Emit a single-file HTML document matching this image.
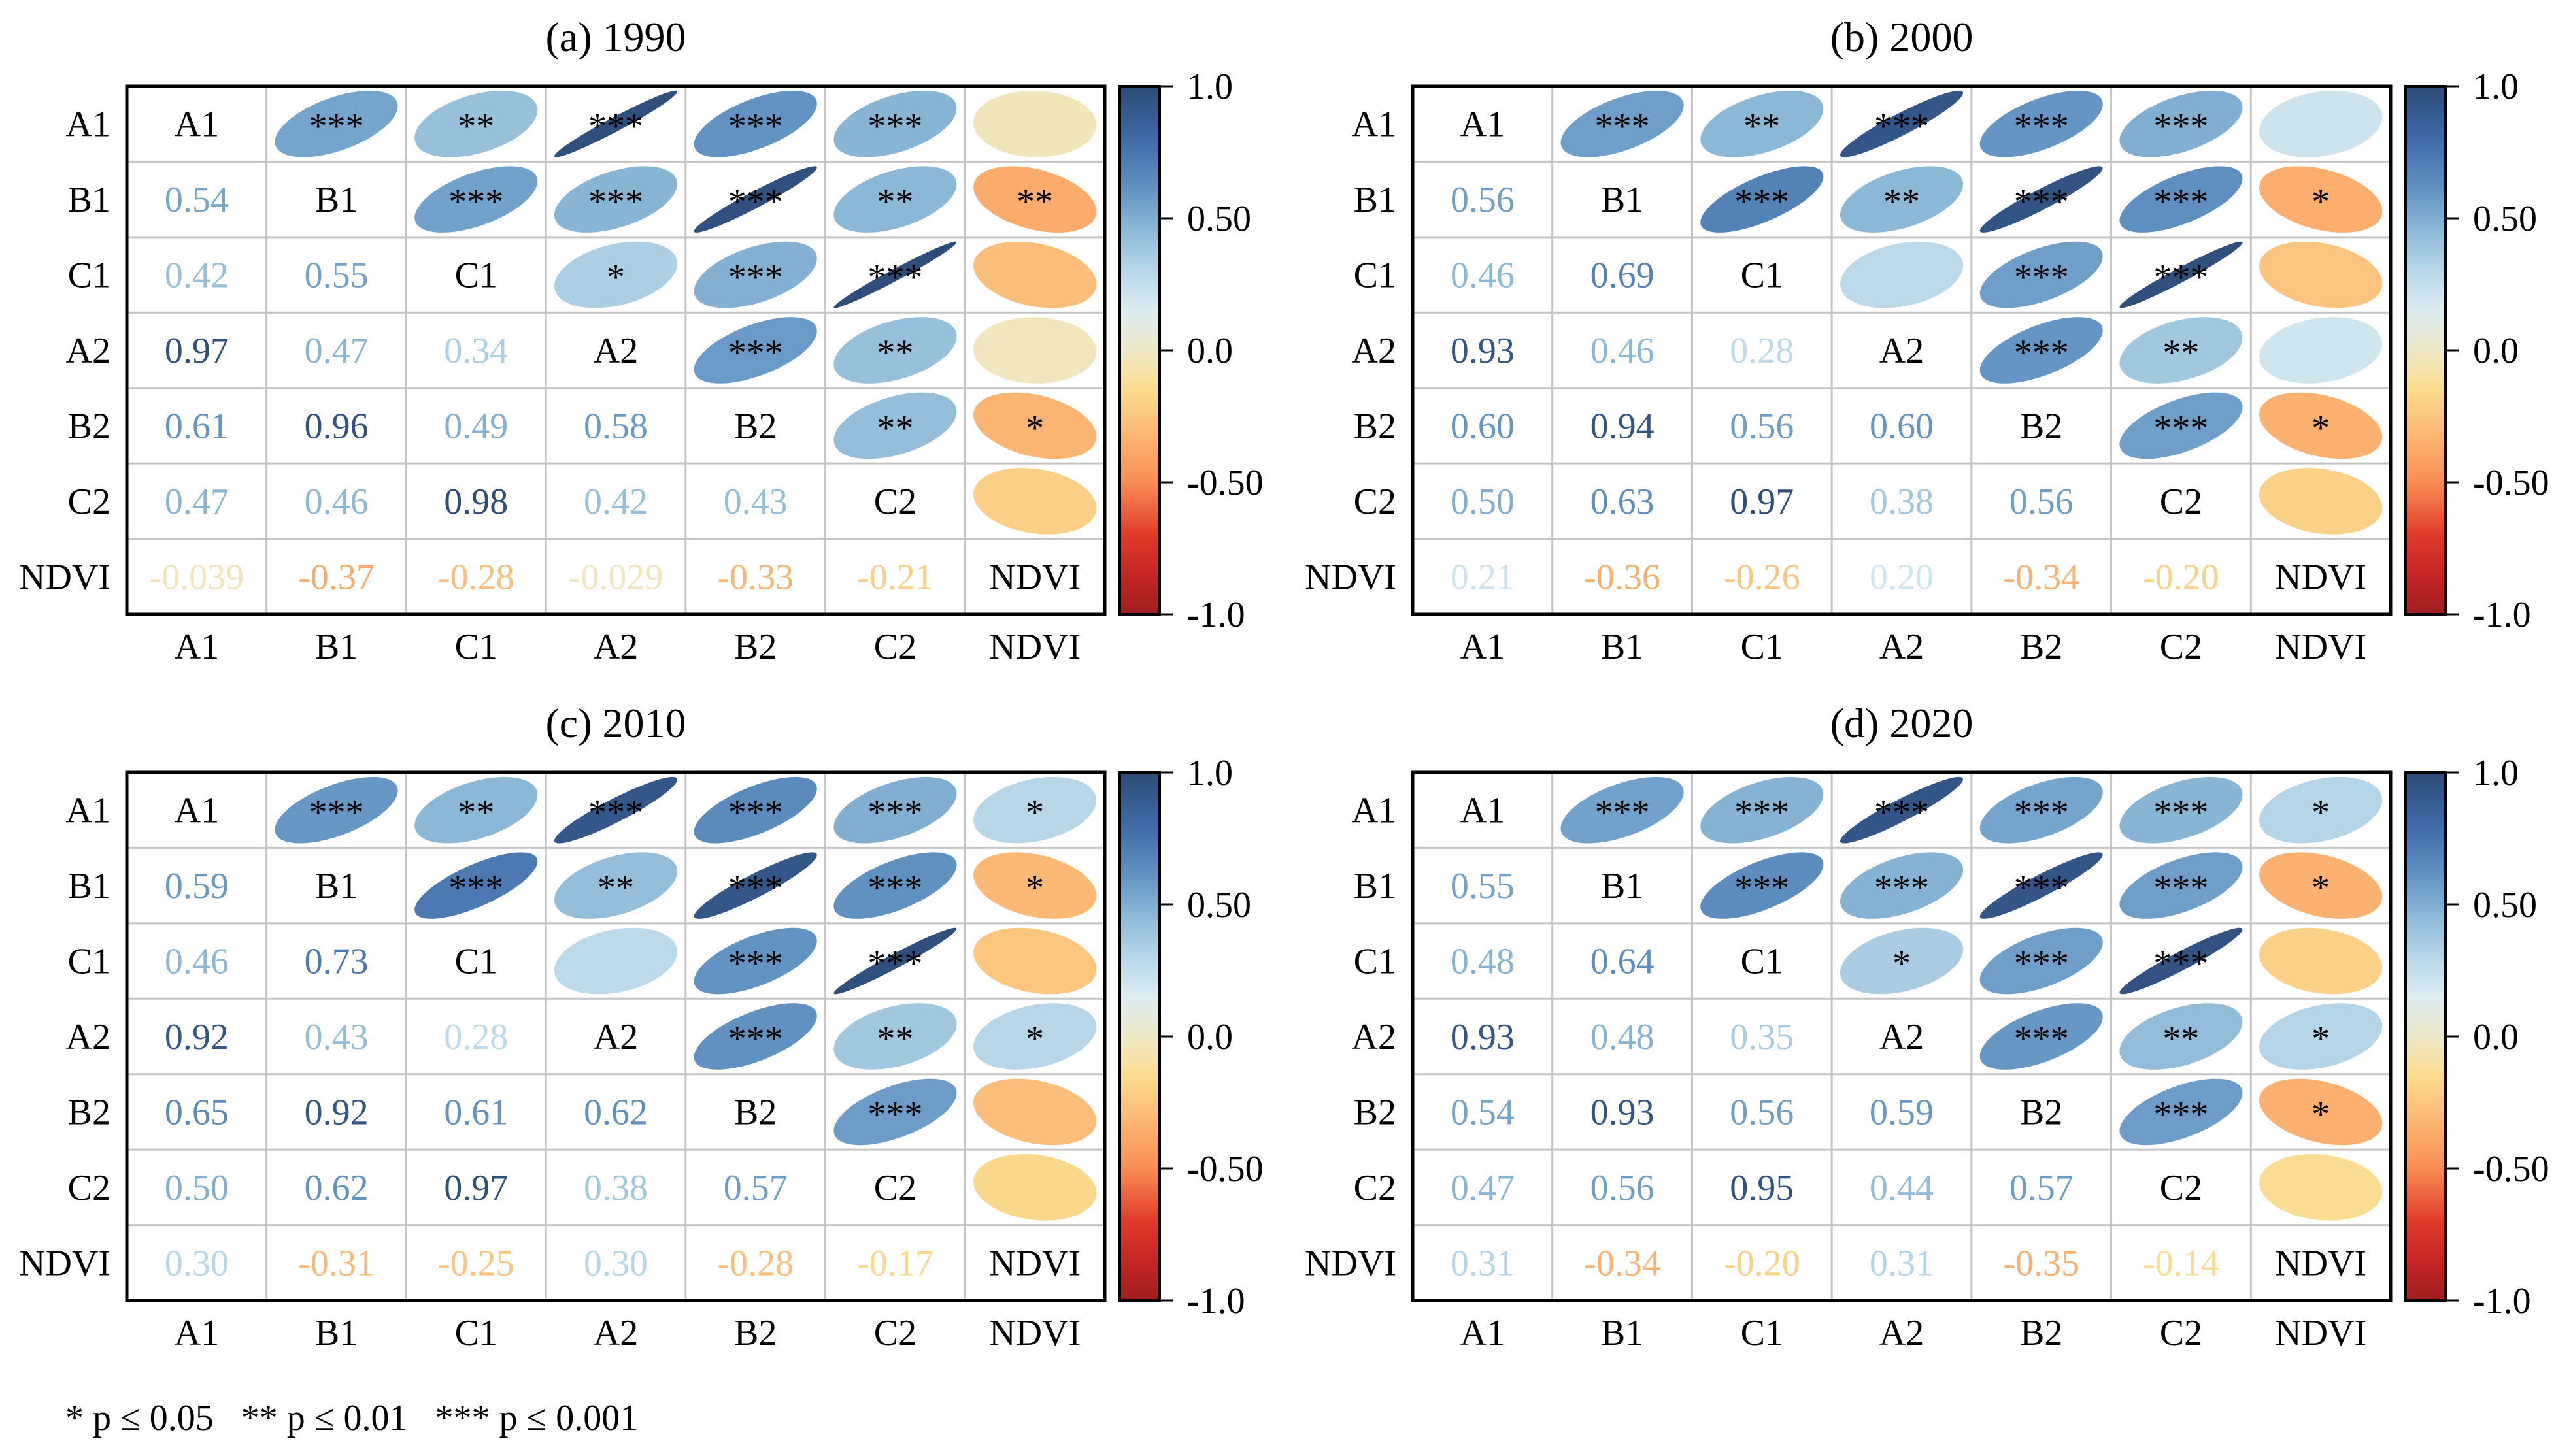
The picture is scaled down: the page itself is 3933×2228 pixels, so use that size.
<!DOCTYPE html>
<html><head><meta charset="utf-8">
<style>
html,body{margin:0;padding:0;background:#fff;}
svg{display:block;font-family:"Liberation Serif",serif;}
</style></head>
<body>
<svg id="chart" width="3933" height="2228" viewBox="0 0 3933 2228" xmlns="http://www.w3.org/2000/svg">
<rect width="3933" height="2228" fill="#fff"/>
<defs>
<linearGradient id="cbgrad" x1="0" y1="0" x2="0" y2="1">
<stop offset="0" stop-color="#2c4a75"/>
<stop offset="0.1" stop-color="#3f6aa8"/>
<stop offset="0.2" stop-color="#6495c4"/>
<stop offset="0.275" stop-color="#8fbad8"/>
<stop offset="0.35" stop-color="#b7d7e8"/>
<stop offset="0.425" stop-color="#dcedf2"/>
<stop offset="0.5" stop-color="#eee9c8"/>
<stop offset="0.575" stop-color="#fbdc8e"/>
<stop offset="0.65" stop-color="#fcbb78"/>
<stop offset="0.75" stop-color="#f98e55"/>
<stop offset="0.85" stop-color="#df3b2a"/>
<stop offset="0.925" stop-color="#c42624"/>
<stop offset="1" stop-color="#a01e1e"/>
</linearGradient>
</defs>
<text x="100" y="2188" font-size="56">* p ≤ 0.05&#160;&#160;&#160;** p ≤ 0.01&#160;&#160;&#160;*** p ≤ 0.001</text>
</svg>
<script>
const vars = ["A1","B1","C1","A2","B2","C2","NDVI"];
const titles = ["(a) 1990","(b) 2000","(c) 2010","(d) 2020"];
// lower-triangle correlations, row by row (row i has i values)
const corr1990 = [[],[0.54],[0.42,0.55],[0.97,0.47,0.34],[0.61,0.96,0.49,0.58],[0.47,0.46,0.98,0.42,0.43],[-0.039,-0.37,-0.28,-0.029,-0.33,-0.21]];
const corr2000 = [[],[0.56],[0.46,0.69],[0.93,0.46,0.28],[0.60,0.94,0.56,0.60],[0.50,0.63,0.97,0.38,0.56],[0.21,-0.36,-0.26,0.20,-0.34,-0.20]];
const corr2010 = [[],[0.59],[0.46,0.73],[0.92,0.43,0.28],[0.65,0.92,0.61,0.62],[0.50,0.62,0.97,0.38,0.57],[0.30,-0.31,-0.25,0.30,-0.28,-0.17]];
const corr2020 = [[],[0.55],[0.48,0.64],[0.93,0.48,0.35],[0.54,0.93,0.56,0.59],[0.47,0.56,0.95,0.44,0.57],[0.31,-0.34,-0.20,0.31,-0.35,-0.14]];
// significance stars, upper triangle, row i lists columns i+1..6
const sig1990 = [["***","**","***","***","***",""],["***","***","***","**","**"],["*","***","***",""],["***","**",""],["**","*"],[""]];
const sig2000 = [["***","**","***","***","***",""],["***","**","***","***","*"],["","***","***",""],["***","**",""],["***","*"],[""]];
const sig2010 = [["***","**","***","***","***","*"],["***","**","***","***","*"],["","***","***",""],["***","**","*"],["***",""],[""]];
const sig2020 = [["***","***","***","***","***","*"],["***","***","***","***","*"],["*","***","***",""],["***","**","*"],["***","*"],[""]];
const cbTicks = [1.0,0.5,0.0,-0.5,-1.0];
const cbTickLabels = ["1.0","0.50","0.0","-0.50","-1.0"];

const corrs=[corr1990,corr2000,corr2010,corr2020];
const sigs=[sig1990,sig2000,sig2010,sig2020];
const offX=[0,1967,0,1967], offY=[0,0,1050,1050];
const stops=[[1,"#2c4a75"],[0.8,"#3f6aa8"],[0.6,"#6495c4"],[0.45,"#8fbad8"],[0.3,"#b7d7e8"],[0.15,"#dcedf2"],[0,"#eee9c8"],[-0.15,"#fbdc8e"],[-0.3,"#fcbb78"],[-0.5,"#f98e55"],[-0.7,"#df3b2a"],[-0.85,"#c42624"],[-1,"#a01e1e"]];
function hx(c){return [1,3,5].map(i=>parseInt(c.substr(i,2),16));}
function color(v){
  for(let i=0;i<stops.length-1;i++){
    const [a,ca]=stops[i],[b,cb]=stops[i+1];
    if(v<=a&&v>=b){const t=(a-v)/(a-b);const A=hx(ca),B=hx(cb);
      return "rgb("+A.map((x,k)=>Math.round(x+(B[k]-x)*t)).join(",")+")";}
  }
  return v>0?stops[0][1]:stops[stops.length-1][1];
}
const NS="http://www.w3.org/2000/svg";
const svg=document.getElementById("chart");
function mk(tag,attrs,parent){const e=document.createElementNS(NS,tag);for(const k in attrs)e.setAttribute(k,attrs[k]);(parent||svg).appendChild(e);return e;}
const L0=194,T0=132,GW=1496,GH=808,n=7,cw=GW/n,ch=GH/n;
function fmt(v){return String(v).replace(/^(-?\d\.\d)$/,"$10");}
function getCorr(M,i,j){return i>j?M[i][j]:M[j][i];}
for(let p=0;p<4;p++){
  const g=mk("g",{transform:"translate("+offX[p]+","+offY[p]+")"});
  
  
  const xs=j=>L0+cw*j, ys=i=>T0+ch*i;
  const t=mk("text",{x:L0+GW/2,y:78,"font-size":64,"text-anchor":"middle"},g);t.textContent=titles[p];
  
  
  for(let k=1;k<n;k++){
    mk("line",{x1:xs(k),y1:T0,x2:xs(k),y2:T0+GH,stroke:"#c4c4c4","stroke-width":3},g);
    mk("line",{x1:L0,y1:ys(k),x2:L0+GW,y2:ys(k),stroke:"#c4c4c4","stroke-width":3},g);
  }
  for(let i=0;i<n;i++){
    for(let j=0;j<n;j++){
      const cx=xs(j)+cw/2, cy=ys(i)+ch/2;
      if(i===j){
        const d=mk("text",{x:cx,y:cy+19,"font-size":56,"text-anchor":"middle"},g);d.textContent=vars[i];
        
        
      } else if(i>j){
        const v=corrs[p][i][j];
        const d=mk("text",{x:cx,y:cy+19,"font-size":56,"text-anchor":"middle",fill:color(v)},g);d.textContent=fmt(v);
        
        
      } else {
        const v=getCorr(corrs[p],j,i);
        const dd=Math.acos(Math.max(-1,Math.min(1,v)));
        let pts=[];
        for(let k=0;k<100;k++){const a=2*Math.PI*k/100;
          const ex=Math.cos(a+dd/2)/2*0.88, ey=Math.cos(a-dd/2)/2*0.88;
          pts.push((cx+ex*cw).toFixed(1)+","+(cy-ey*ch).toFixed(1));}
        const e=mk("polygon",{points:pts.join(" "),fill:color(v)},g);
        
        
        const s=sigs[p][i][j-i-1];
        if(s){const st=mk("text",{x:cx,y:cy+22,"font-size":56,"text-anchor":"middle"},g);st.textContent=s;
          
          }
      }
    }
    const yl=mk("text",{x:169,y:ys(i)+ch/2+19,"font-size":56,"text-anchor":"end"},g);yl.textContent=vars[i];
    
    
    const xl=mk("text",{x:xs(i)+cw/2,y:1008,"font-size":56,"text-anchor":"middle"},g);xl.textContent=vars[i];
    
    
  }
  const b=mk("rect",{x:L0,y:T0,width:GW,height:GH,fill:"none",stroke:"#000","stroke-width":5},g);
  
  
  const cb=mk("rect",{x:1713,y:T0,width:61,height:GH,fill:"url(#cbgrad)",stroke:"#000","stroke-width":4},g);
  
  
  cbTicks.forEach((tv,k)=>{
    const y=T0+(1-tv)/2*GH;
    mk("line",{x1:1774,y1:y,x2:1795,y2:y,stroke:"#000","stroke-width":3},g);
    const tl=mk("text",{x:1816,y:y+19,"font-size":56},g);tl.textContent=cbTickLabels[k];
    
    
  });
}
</script>
</body></html>
